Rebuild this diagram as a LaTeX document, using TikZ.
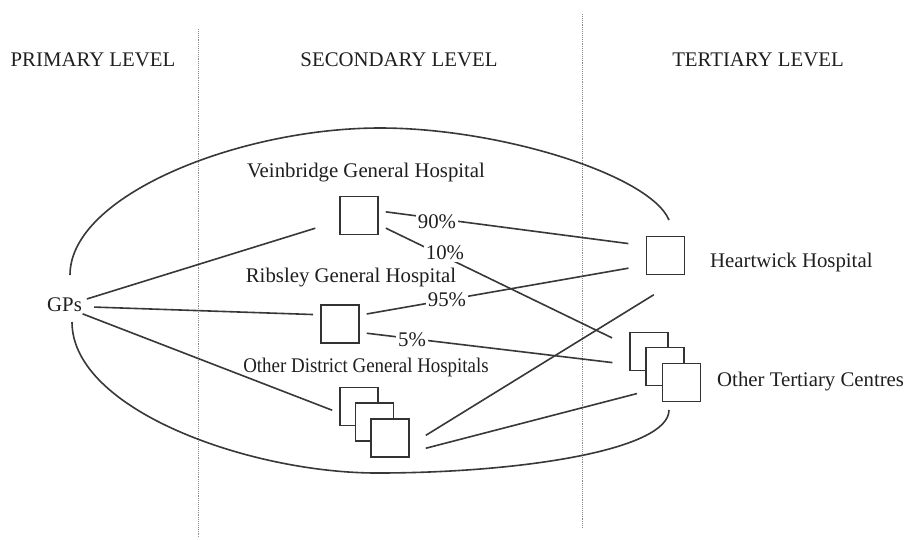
\documentclass[tikz,border=0pt]{standalone}
\usepackage{fontspec}
\setmainfont{Liberation Serif}
\begin{document}
\begin{tikzpicture}[x=1pt,y=-1pt,
  lbl/.style={font=\fontsize{20.8}{24}\selectfont, text=black!88, inner sep=0pt},
  box/.style={draw=black!80, line width=1.6pt, fill=white, minimum size=38pt, inner sep=0pt},
  link/.style={draw=black!78, line width=1.6pt},
  pct/.style={lbl, fill=white, inner sep=2pt},
  divider/.style={draw=black!45, line width=0.9pt, densely dotted},
  rim/.style={draw=black!78, line width=1.6pt}]
\useasboundingbox[fill=white] (0,0) rectangle (909,539);

% level dividers
\draw[divider] (198,29) -- (198,537);
\draw[divider] (582,14) -- (582,528);

% level headings
\node[lbl] (hprim) at (93,60) {PRIMARY LEVEL};
\node[lbl] (hsec) at (399,60) {SECONDARY LEVEL};
\node[lbl] (hter) at (758,60) {TERTIARY LEVEL};

% outline around the hospital network, open on the GP side and at Heartwick
\draw[rim] (70,275) .. controls (70,195) and (240,128) .. (380,128)
                    .. controls (500,128) and (650,175) .. (669,220);
\draw[rim] (72,322) .. controls (72,410) and (250,473) .. (377,473)
                    .. controls (520,473) and (669,450) .. (669,410);

% hospitals
\node[box] (vb) at (359,215.5) {};
\node[box] (rb) at (340,324) {};
\node[box] (od1) at (359,406.5) {};
\node[box] (od2) at (374.5,422) {};
\node[box] (od3) at (390,438) {};
\node[box] (hw) at (665.5,255.5) {};
\node[box] (ot1) at (649,351.5) {};
\node[box] (ot2) at (665,366.5) {};
\node[box] (ot3) at (681.5,382.5) {};

% labels
\node[lbl, anchor=west] (gps) at (47,304.5) {GPs};
\node[lbl] (vbl) at (366,173) {Veinbridge General Hospital};
\node[lbl] (rbl) at (351,278) {Ribsley General Hospital};
\node[lbl] (odl) at (366,367) {\scalebox{0.91}[1]{Other District General Hospitals}};
\node[lbl, anchor=west] (hwl) at (710,262) {Heartwick Hospital};
\node[lbl, anchor=west] (otl) at (717,382) {Other Tertiary Centres};

% referral links
\draw[link, shorten <=5pt, shorten >=25pt] (gps.13) -- (vb.195);
\draw[link, shorten <=12pt, shorten >=7pt] (gps.-7) -- (rb.155);
\draw[link, shorten <=6pt, shorten >=7.5pt] (gps.-30) -- (od1.198);
\draw[link, shorten <=7pt, shorten >=17.5pt] (vb.13) -- (hw.154);
\draw[link, shorten <=7.8pt, shorten >=19pt] (vb.-25) -- (ot1.165);
\draw[link, shorten <=7pt, shorten >=17.5pt] (rb.24) -- (hw.206);
\draw[link, shorten <=7pt, shorten >=33pt] (rb.-23) -- (ot2.west);
\draw[link, shorten <=18.8pt, shorten >=37pt] (od3.-20) -- (hw.south east);
\draw[link, shorten <=16.5pt, shorten >=29pt] (od3.-36) -- (ot2.south);

% referral shares
\node[pct] (p90) at (437,222) {90\%};
\node[pct] (p10) at (445,253) {10\%};
\node[pct] (p95) at (447,300) {95\%};
\node[pct] (p5) at (412,340) {5\%};
\end{tikzpicture}
\end{document}
